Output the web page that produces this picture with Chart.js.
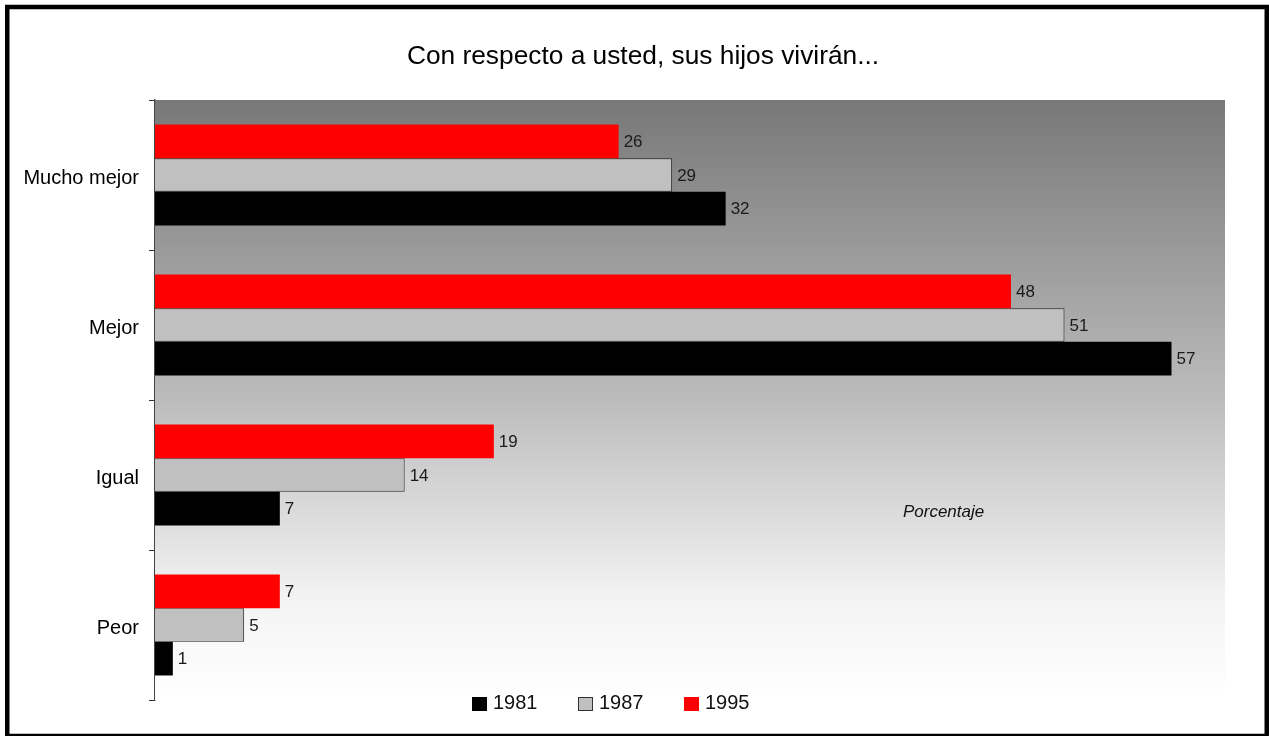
<!DOCTYPE html>
<html>
<head>
<meta charset="utf-8">
<script src="https://cdn.jsdelivr.net/npm/chart.js@4"></script>
<style>
  html, body { margin: 0; padding: 0; background: #fff; }
  #wrap { width: 1269px; height: 736px; position: relative; }
  canvas { display: block; }
</style>
</head>
<body>
<div id="wrap"><canvas id="c" width="1269" height="736"></canvas></div>
<script>
const categories = ["Mucho mejor", "Mejor", "Igual", "Peor"];
const values1995 = [26, 48, 19, 7];
const values1987 = [29, 51, 14, 5];
const values1981 = [32, 57, 7, 1];
const seriesNames = ["1995", "1987", "1981"];
const titleText = "Con respecto a usted, sus hijos vivirán...";
const axisNote = "Porcentaje";
const FONT = "'Liberation Sans', Arial, Helvetica, sans-serif";

const bgPlugin = {
  id: 'bgGradient',
  beforeDatasetsDraw(chart) {
    const { ctx, chartArea: a } = chart;
    const g = ctx.createLinearGradient(0, a.top, 0, a.bottom);
    g.addColorStop(0, '#787878');
    g.addColorStop(0.5, '#bcbcbc');
    g.addColorStop(0.83, '#f3f3f3');
    g.addColorStop(1, '#ffffff');
    ctx.save();
    ctx.fillStyle = g;
    ctx.fillRect(a.left, a.top, a.right - a.left, a.bottom - a.top);
    ctx.restore();
  }
};

const labelPlugin = {
  id: 'valueLabels',
  afterDatasetsDraw(chart) {
    const { ctx } = chart;
    ctx.save();
    ctx.font = '17px ' + FONT;
    ctx.fillStyle = '#1a1a1a';
    ctx.textAlign = 'left';
    ctx.textBaseline = 'middle';
    chart.data.datasets.forEach((ds, i) => {
      const meta = chart.getDatasetMeta(i);
      meta.data.forEach((bar, j) => {
        ctx.fillText(String(ds.data[j]), bar.x + 5, bar.y + 1);
      });
    });
    ctx.restore();
  }
};

const decoPlugin = {
  id: 'deco',
  afterDraw(chart) {
    const { ctx, chartArea: a } = chart;
    ctx.save();
    // title
    ctx.font = '26.3px ' + FONT;
    ctx.fillStyle = '#000';
    ctx.textAlign = 'center';
    ctx.textBaseline = 'middle';
    ctx.fillText(titleText, 643, 57);
    // axis note
    ctx.font = 'italic 17px ' + FONT;
    ctx.fillStyle = '#111';
    ctx.fillText(axisNote, a.left + 0.737 * (a.right - a.left), a.top + 0.687 * (a.bottom - a.top));
    // legend (reverse dataset order)
    ctx.font = '20px ' + FONT;
    ctx.textAlign = 'left';
    const dss = chart.data.datasets.slice().reverse();
    let x = a.left + 317;
    const y = 704;
    dss.forEach(ds => {
      ctx.fillStyle = ds.backgroundColor;
      ctx.fillRect(x, y - 7, 15, 14);
      if (ds.borderWidth) {
        ctx.strokeStyle = '#333';
        ctx.lineWidth = 1;
        ctx.strokeRect(x + 0.5, y - 6.5, 14, 13);
      }
      ctx.fillStyle = '#111';
      ctx.fillText(ds.label, x + 21, y - 1);
      x += 106;
    });
    // outer frame
    ctx.strokeStyle = '#000';
    ctx.lineWidth = 4.5;
    ctx.strokeRect(7.25, 7, 1259.5, 729);
    ctx.restore();
  }
};

new Chart(document.getElementById('c'), {
  type: 'bar',
  data: {
    labels: categories,
    datasets: [
      { label: seriesNames[0], data: values1995, backgroundColor: '#ff0000', borderWidth: 0 },
      { label: seriesNames[1], data: values1987, backgroundColor: '#c0c0c0', borderColor: '#222', borderWidth: 1, borderSkipped: 'left' },
      { label: seriesNames[2], data: values1981, backgroundColor: '#000000', borderWidth: 0 }
    ]
  },
  options: {
    indexAxis: 'y',
    responsive: false,
    animation: false,
    devicePixelRatio: 1,
    categoryPercentage: 0.673,
    barPercentage: 1,
    layout: { padding: { left: 0, right: 44, top: 100, bottom: 36 } },
    plugins: {
      legend: { display: false },
      tooltip: { enabled: false },
      title: { display: false }
    },
    scales: {
      x: { display: false, min: 0, max: 60 },
      y: {
        grid: { display: true, drawOnChartArea: false, drawTicks: true, tickLength: 6, color: '#333', offset: true },
        border: { display: true, color: '#444', width: 1.5 },
        ticks: { color: '#000', font: { family: FONT, size: 20 }, padding: 10, labelOffset: 3 },
        afterFit(scale) { scale.width = 155; }
      }
    }
  },
  plugins: [bgPlugin, labelPlugin, decoPlugin]
});
</script>
</body>
</html>
